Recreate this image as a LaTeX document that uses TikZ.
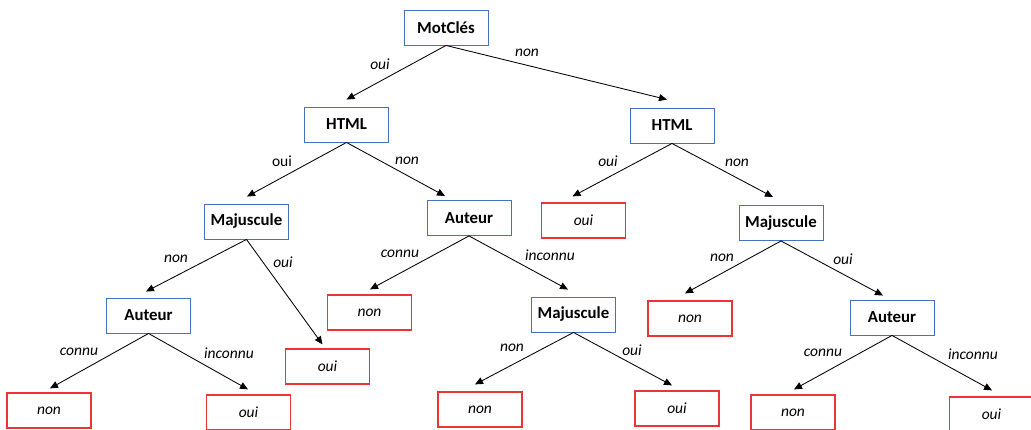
\documentclass[tikz,border=0pt]{standalone}
\usepackage{fontspec}
\setmainfont{Carlito}
\usetikzlibrary{arrows.meta}
\definecolor{testblue}{RGB}{72,112,192}
\definecolor{leafred}{RGB}{236,52,56}
\tikzset{
  test/.style={draw=testblue, line width=0.9pt, minimum width=84pt, minimum height=35pt,
    inner sep=0pt, font=\fontsize{16.8}{18}\selectfont\bfseries},
  leaf/.style={draw=leafred, line width=1.2pt, minimum width=84pt, minimum height=35pt,
    inner sep=0pt, font=\fontsize{15.5}{18}\selectfont\itshape},
  lab/.style={inner sep=0pt, font=\fontsize{15.5}{18}\selectfont\itshape},
  labup/.style={inner sep=0pt, font=\fontsize{15.5}{18}\selectfont},
  arr/.style={line width=0.85pt, -{Triangle[length=8pt,width=7pt]}}
}
\begin{document}
\begin{tikzpicture}[x=1pt,y=-1pt]
\useasboundingbox (0,0) rectangle (1031,430);
\clip (0,0) rectangle (1031,430);

% decision nodes
\node[test] (mc)   at (446,27.5)   {MotClés};
\node[test] (hl)   at (346.5,124.5) {HTML};
\node[test] (hr)   at (672,125.5)  {HTML};
\node[test] (majl) at (246.5,221.5) {Majuscule};
\node[test] (autm) at (469,218)    {Auteur};
\node[test] (majr) at (781,223)    {Majuscule};
\node[test] (autl) at (148.5,315.5) {Auteur};
\node[test] (majm) at (573.5,314.5) {Majuscule};
\node[test] (autr) at (892,317.5)  {Auteur};

% leaves
\node[leaf] (l1)  at (583.5,220.5) {oui};
\node[leaf] (l2)  at (327.5,366.5) {oui};
\node[leaf] (l3)  at (369.5,312.5) {non};
\node[leaf] (l4)  at (690,318.5)   {non};
\node[leaf] (l5)  at (49,410.5)    {non};
\node[leaf] (l6)  at (248.5,412.5) {oui};
\node[leaf] (l7)  at (480,409.5)   {non};
\node[leaf] (l8)  at (677,408.5)   {oui};
\node[leaf] (l9)  at (793,412.5)   {non};
\node[leaf] (l10) at (991.5,414.5) {oui};

% branches
\draw[arr] (mc.south)   -- ([shift={(0,-7)}]hl.north);
\draw[arr] (mc.south)   -- ([shift={(-5,-8)}]hr.north);
\draw[arr] (hl.south)   -- ([shift={(0.5,-7)}]majl.north);
\draw[arr] (hl.south)   -- ([shift={(-24,-4)}]autm.north);
\draw[arr] (hr.south)   -- ([shift={(-11,-6)}]l1.north);
\draw[arr] (hr.south)   -- ([shift={(-8,-8)}]majr.north);
\draw[arr] (majl.south) -- ([shift={(-2.5,-6)}]autl.north);
\draw[arr] (majl.south) -- ([shift={(-5,-4)}]l2.north);
\draw[arr] (autl.south) -- ([shift={(1,-4)}]l5.north);
\draw[arr] (autl.south) -- ([shift={(-0.5,-5)}]l6.north);
\draw[arr] (autm.south) -- ([shift={(0.5,-5)}]l3.north);
\draw[arr] (autm.south) -- ([shift={(-5.5,-7)}]majm.north);
\draw[arr] (majm.south) -- ([shift={(-5,-7)}]l7.north);
\draw[arr] (majm.south) -- ([shift={(-5,-5)}]l8.north);
\draw[arr] (majr.south) -- ([shift={(-5,-7)}]l4.north);
\draw[arr] (majr.south) -- ([shift={(-9,-4)}]autr.north);
\draw[arr] (autr.south) -- ([shift={(1,-5)}]l9.north);
\draw[arr] (autr.south) -- ([shift={(0.5,-6)}]l10.north);

% branch labels
\node[lab]   (b1)  at (380,64)  {oui};
\node[lab]   (b2)  at (527,53)  {non};
\node[labup] (b3)  at (282,161) {oui};
\node[lab]   (b4)  at (407,161) {non};
\node[lab]   (b5)  at (608,161) {oui};
\node[lab]   (b6)  at (737,163) {non};
\node[lab]   (b7)  at (176,259) {non};
\node[lab]   (b8)  at (283,262) {oui};
\node[lab]   (b9)  at (400,254) {connu};
\node[lab]   (b10) at (550,255) {inconnu};
\node[lab]   (b11) at (79,352)  {connu};
\node[lab]   (b12) at (229,353) {inconnu};
\node[lab]   (b13) at (512,348) {non};
\node[lab]   (b14) at (632,350) {oui};
\node[lab]   (b15) at (722,258) {non};
\node[lab]   (b16) at (843,259) {oui};
\node[lab]   (b17) at (823,353) {connu};
\node[lab]   (b18) at (973,354) {inconnu};
\end{tikzpicture}
\end{document}
